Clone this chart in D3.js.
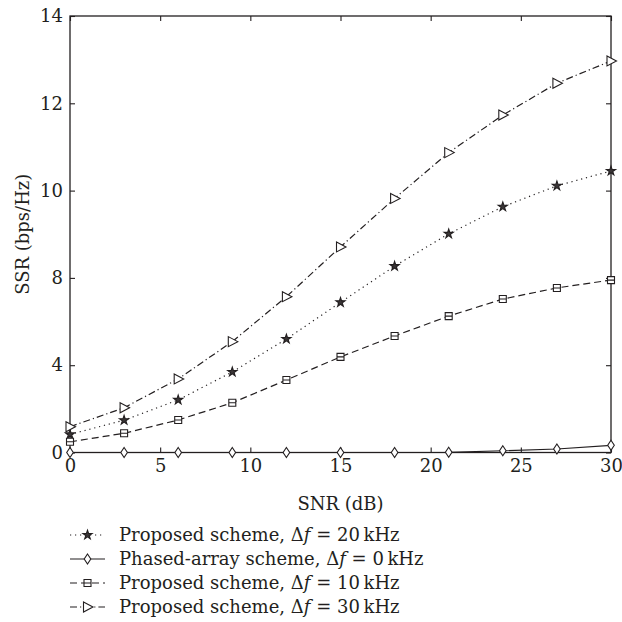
<!DOCTYPE html>
<html>
<head>
<meta charset="utf-8">
<script src="https://cdn.jsdelivr.net/npm/d3@7"></script>
<style>
  body { margin: 0; background: #fff; }
</style>
</head>
<body>
<svg id="chart" width="622" height="622"></svg>
<script>
// SNR points (dB)
const snr = [0, 3, 6, 9, 12, 15, 18, 21, 24, 27, 30];

// series values (SSR, bps/Hz)
const proposed20 = [0.83, 1.48, 2.41, 3.69, 5.20, 6.88, 8.27, 9.01, 9.63, 10.11, 10.45];
const phasedArray0 = [0, 0, 0, 0, 0, 0, 0, 0.01, 0.08, 0.16, 0.33];
const proposed10 = [0.49, 0.88, 1.49, 2.28, 3.32, 4.38, 5.34, 6.25, 7.03, 7.54, 7.90];
const proposed30 = [1.18, 2.05, 3.37, 5.08, 7.14, 8.71, 9.82, 10.87, 11.73, 12.46, 12.97];

// axis ticks as printed on the original (y labels are unevenly valued but evenly spaced)
const xTicks = [0, 5, 10, 15, 20, 25, 30];
const yTicks = [0, 4, 8, 10, 12, 14];

const legendLabels = [
    {pre: "Proposed scheme, Δ", post: " = 20\u2009kHz"},
    {pre: "Phased-array scheme, Δ", post: " = 0\u2009kHz"},
    {pre: "Proposed scheme, Δ", post: " = 10\u2009kHz"},
    {pre: "Proposed scheme, Δ", post: " = 30\u2009kHz"}
];

const margin = {top: 16, right: 11, left: 70};
const width = 622;
const x0 = margin.left, x1 = width - margin.right;
const y0 = 452.5, y1 = margin.top;
const fontSize = 20;
const serif = "'DejaVu Serif', serif";

const svg = d3.select('#chart')
    .style('font-family', serif);

const xScale = d3.scaleLinear().domain([0, 30]).range([x0, x1]);
const yStep = (y0 - y1) / (yTicks.length - 1);
const yScale = d3.scaleLinear()
    .domain(yTicks)
    .range(yTicks.map((d, i) => y0 - i * yStep));

const ink = '#231f20';

// frame
svg.append('rect')
    .attr('x', x0).attr('y', y1)
    .attr('width', x1 - x0).attr('height', y0 - y1)
    .attr('fill', 'none').attr('stroke', ink).attr('stroke-width', 1.3);

// axes (ticks inward)
const axisStyle = g => {
    g.attr('font-family', null).attr('font-size', null);
    g.select('.domain').remove();
    g.selectAll('line').attr('stroke', ink).attr('stroke-width', 1.1);
    g.selectAll('text')
        .style('font-family', serif)
        .style('font-size', (fontSize - 2) + 'px')
        .attr('fill', ink);
};

svg.append('g')
    .attr('transform', `translate(0,${y0})`)
    .call(d3.axisBottom(xScale).tickValues(xTicks).tickSizeInner(-5).tickSizeOuter(0).tickPadding(7))
    .call(axisStyle);
svg.append('g')
    .attr('transform', `translate(0,${y1})`)
    .call(d3.axisTop(xScale).tickValues(xTicks).tickSizeInner(-5).tickSizeOuter(0).tickFormat(''))
    .call(axisStyle);
svg.append('g')
    .attr('transform', `translate(${x0},0)`)
    .call(d3.axisLeft(yScale).tickValues(yTicks).tickSizeInner(-5).tickSizeOuter(0).tickPadding(7))
    .call(axisStyle);
svg.append('g')
    .attr('transform', `translate(${x1},0)`)
    .call(d3.axisRight(yScale).tickValues(yTicks).tickSizeInner(-5).tickSizeOuter(0).tickFormat(''))
    .call(axisStyle);

// axis titles
svg.append('text')
    .attr('x', (x0 + x1) / 2).attr('y', 510)
    .attr('text-anchor', 'middle')
    .style('font-family', serif).style('font-size', (fontSize - 2) + 'px')
    .attr('fill', ink)
    .text('SNR (dB)');
svg.append('text')
    .attr('transform', `translate(29,${(y0 + y1) / 2}) rotate(-90)`)
    .attr('text-anchor', 'middle')
    .style('font-family', serif).style('font-size', (fontSize - 2) + 'px')
    .attr('fill', ink)
    .text('SSR (bps/Hz)');

// marker shapes
const star = d3.symbol().type(d3.symbolStar).size(26)();
const diamond = 'M0,-5L3.3,0L0,5L-3.3,0Z';
const square = 'M-3.5,-3.5H3.5V3.5H-3.5Z M-3.5,0H3.5';
const triangle = 'M-4,-5L5.5,0L-4,5Z';

const series = [
    {values: proposed20, dash: '1.2,3.8', marker: star, fill: '#3a3637'},
    {values: phasedArray0, dash: null, marker: diamond, fill: '#fff'},
    {values: proposed10, dash: '7,4', marker: square, fill: '#fff'},
    {values: proposed30, dash: '7,3,1.2,3', marker: triangle, fill: '#fff'}
];

const line = d3.line()
    .x((d, i) => xScale(snr[i]))
    .y(d => yScale(d));

series.forEach(s => {
    svg.append('path')
        .datum(s.values)
        .attr('d', line)
        .attr('fill', 'none')
        .attr('stroke', ink)
        .attr('stroke-width', 1.2)
        .attr('stroke-dasharray', s.dash);

    svg.selectAll(null)
        .data(s.values)
        .join('path')
        .attr('transform', (d, i) => `translate(${xScale(snr[i])},${yScale(d)})`)
        .attr('d', s.marker)
        .attr('fill', s.fill)
        .attr('stroke', ink)
        .attr('stroke-width', 1.1);
});

// legend
const legend = svg.append('g');
const legendY = [535, 559, 583, 607];
series.forEach((s, i) => {
    const ly = legendY[i];
    legend.append('line')
        .attr('x1', 70).attr('x2', 105)
        .attr('y1', ly).attr('y2', ly)
        .attr('stroke', ink).attr('stroke-width', 1.2)
        .attr('stroke-dasharray', s.dash);
    legend.append('path')
        .attr('transform', `translate(87.5,${ly})`)
        .attr('d', s.marker)
        .attr('fill', s.fill)
        .attr('stroke', ink)
        .attr('stroke-width', 1.1);
    const t = legend.append('text')
        .attr('x', 119).attr('y', ly + 6)
        .style('font-family', serif).style('font-size', (fontSize - 2) + 'px')
        .attr('fill', ink);
    t.append('tspan').text(legendLabels[i].pre);
    t.append('tspan').attr('font-style', 'italic').text('f');
    t.append('tspan').text(legendLabels[i].post);
});
</script>
</body>
</html>
